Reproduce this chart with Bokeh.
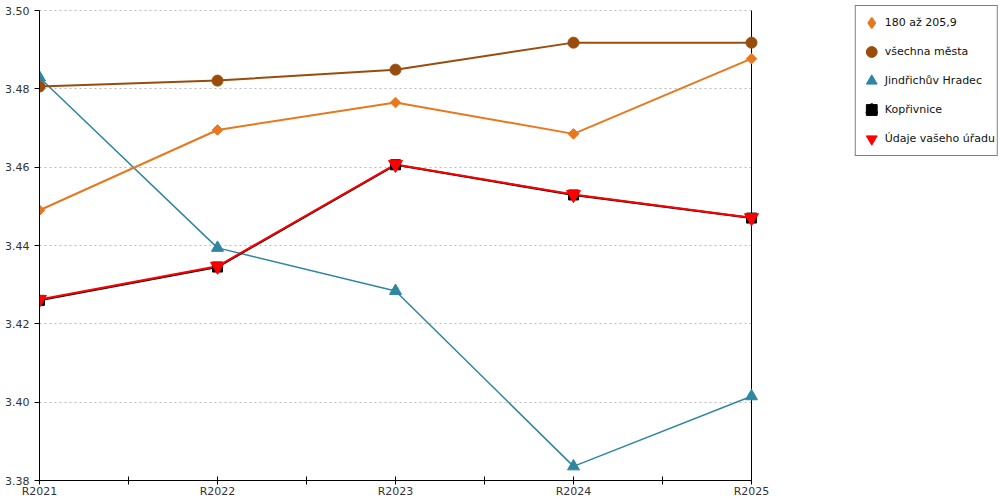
import math
from bokeh.plotting import figure
from bokeh.models import (Range1d, FixedTicker, Legend, LegendItem, BoxAnnotation,
                          ColumnDataSource)
from bokeh.embed import file_html
from bokeh.resources import INLINE

years = ["R2021", "R2022", "R2023", "R2024", "R2025"]
y_ticks = [3.38, 3.40, 3.42, 3.44, 3.46, 3.48, 3.50]

s_180 = [3.4490, 3.4695, 3.4765, 3.4685, 3.4877]
s_vsechna = [3.4806, 3.4821, 3.4849, 3.4918, 3.4918]
s_jh = [3.4829, 3.4394, 3.4284, 3.3836, 3.4015]
s_kop = [3.4260, 3.4345, 3.4606, 3.4529, 3.4470]
s_urad = [3.4262, 3.4347, 3.4607, 3.4530, 3.4471]

names = ["180 až 205,9", "všechna města", "Jindřichův Hradec", "Kopřivnice",
         "Údaje vašeho úřadu"]

FONT = "DejaVu Sans"

# ---- layout (pixels) ----
W, H = 1000, 500
LEFT, TOP = 39, 4
DATA_W = 712            # px between first and last category
FRAME_BOTTOM = 479      # expected frame bottom
TOP_GAP = 6             # px between frame top and the top tick

n = len(years)
xs = list(range(n))
frame_w = W - LEFT - 1
x_end = frame_w * (n - 1) / DATA_W
frame_h = FRAME_BOTTOM - TOP
y_span = y_ticks[-1] - y_ticks[0]
y_end = y_ticks[-1] + TOP_GAP * y_span / (frame_h - TOP_GAP)

p = figure(width=W, height=H, output_backend="svg", toolbar_location=None,
           x_range=Range1d(0, x_end), y_range=Range1d(y_ticks[0], y_end),
           min_border_left=LEFT, min_border_right=1, min_border_top=TOP,
           min_border_bottom=0)
p.outline_line_color = None
p.background_fill_color = "white"

# axes
half = [i * 0.5 for i in range(2 * (n - 1) + 1)]
p.xaxis.ticker = FixedTicker(ticks=half)
p.xaxis.major_label_overrides = {t: (years[int(t)] if float(t).is_integer() else "") for t in half}
p.xaxis.major_tick_in = 4
p.xaxis.major_tick_out = 4
p.xaxis.minor_tick_line_color = None
p.xaxis.major_label_standoff = 0
p.xaxis.bounds = (0, n - 1)
p.yaxis.ticker = FixedTicker(ticks=y_ticks)
p.yaxis.major_label_overrides = {t: f"{t:.2f}" for t in y_ticks}
p.yaxis.major_tick_in = 0
p.yaxis.major_tick_out = 5
p.yaxis.minor_tick_line_color = None
p.yaxis.major_label_standoff = 5
p.yaxis.bounds = (y_ticks[0], y_ticks[-1])
for ax in (p.xaxis, p.yaxis):
    ax.axis_line_color = "black"
    ax.major_tick_line_color = "black"
    ax.major_label_text_font = FONT
    ax.major_label_text_font_size = "11px"
    ax.major_label_text_color = "#333333"

p.xgrid.grid_line_color = None
p.ygrid.grid_line_color = "#bbbbbb"
p.ygrid.grid_line_dash = "2 3"
p.ygrid.grid_line_width = 1

# hide grid beyond the last category
p.add_layout(BoxAnnotation(left=n - 1, fill_color="white", fill_alpha=1,
                           line_alpha=0, level="underlay"))
# right border of the plotting area
p.segment(x0=[n - 1], y0=[y_ticks[0]], x1=[n - 1], y1=[y_ticks[-1]],
          line_color="black", line_width=1)

src = ColumnDataSource(dict(x=xs, a=s_180, b=s_vsechna, c=s_jh, d=s_kop, e=s_urad))
# legend-only glyph source (no points in the plot)
nan_src = ColumnDataSource(dict(x=xs, y=[float("nan")] * n))

c_orange = "#E8781F"
c_brown = "#994C0C"
c_teal = "#2E86A0"
c_red = "#FF0000"

p.line("x", "c", source=src, line_color=c_teal, line_width=1.5)
p.line("x", "a", source=src, line_color=c_orange, line_width=2)
p.line("x", "b", source=src, line_color=c_brown, line_width=2)
p.line("x", "d", source=src, line_color="black", line_width=2)
p.line("x", "e", source=src, line_color=c_red, line_width=2)

m_c = p.scatter("x", "c", source=src, marker="triangle", size=12,
                fill_color=c_teal, line_color=c_teal)
m_a = p.scatter("x", "a", source=src, marker="square", angle=math.pi / 4, size=7.5,
                fill_color=c_orange, line_color=c_orange)
m_b = p.scatter("x", "b", source=src, marker="circle", size=11,
                fill_color=c_brown, line_color=c_brown)
m_d = p.scatter("x", "d", source=src, marker="square", size=10,
                fill_color="black", line_color="black")
m_e = p.scatter("x", "e", source=src, marker="inverted_triangle", size=14,
                fill_color=c_red, line_color=c_red)

# legend glyph shapes
lg_a = p.scatter("x", "y", source=nan_src, marker="diamond", size=10,
                 fill_color=c_orange, line_color=c_orange, line_width=1.5)
lg_d_body = p.scatter("x", "y", source=nan_src, marker="square", size=10,
                      fill_color="black", line_color="black")
lg_d_roof = p.scatter("x", "y", source=nan_src, marker="triangle", size=10,
                      fill_color="black", line_color="black", line_width=2)

items = [
    LegendItem(label=names[0], renderers=[lg_a]),
    LegendItem(label=names[1], renderers=[m_b]),
    LegendItem(label=names[2], renderers=[m_c]),
    LegendItem(label=names[3], renderers=[lg_d_body, lg_d_roof]),
    LegendItem(label=names[4], renderers=[m_e]),
]
legend = Legend(items=items, location="top_right")
legend.border_line_color = "black"
legend.border_line_width = 1
legend.background_fill_color = "white"
legend.background_fill_alpha = 1
legend.label_text_font = FONT
legend.label_text_font_size = "11px"
legend.label_text_color = "#111111"
legend.label_height = 20
legend.glyph_height = 29
legend.glyph_width = 27
legend.spacing = 0
legend.padding = 2
legend.margin = 1
legend.label_standoff = 0
p.add_layout(legend, "center")

open("out.html", "w").write(file_html(p, INLINE))
